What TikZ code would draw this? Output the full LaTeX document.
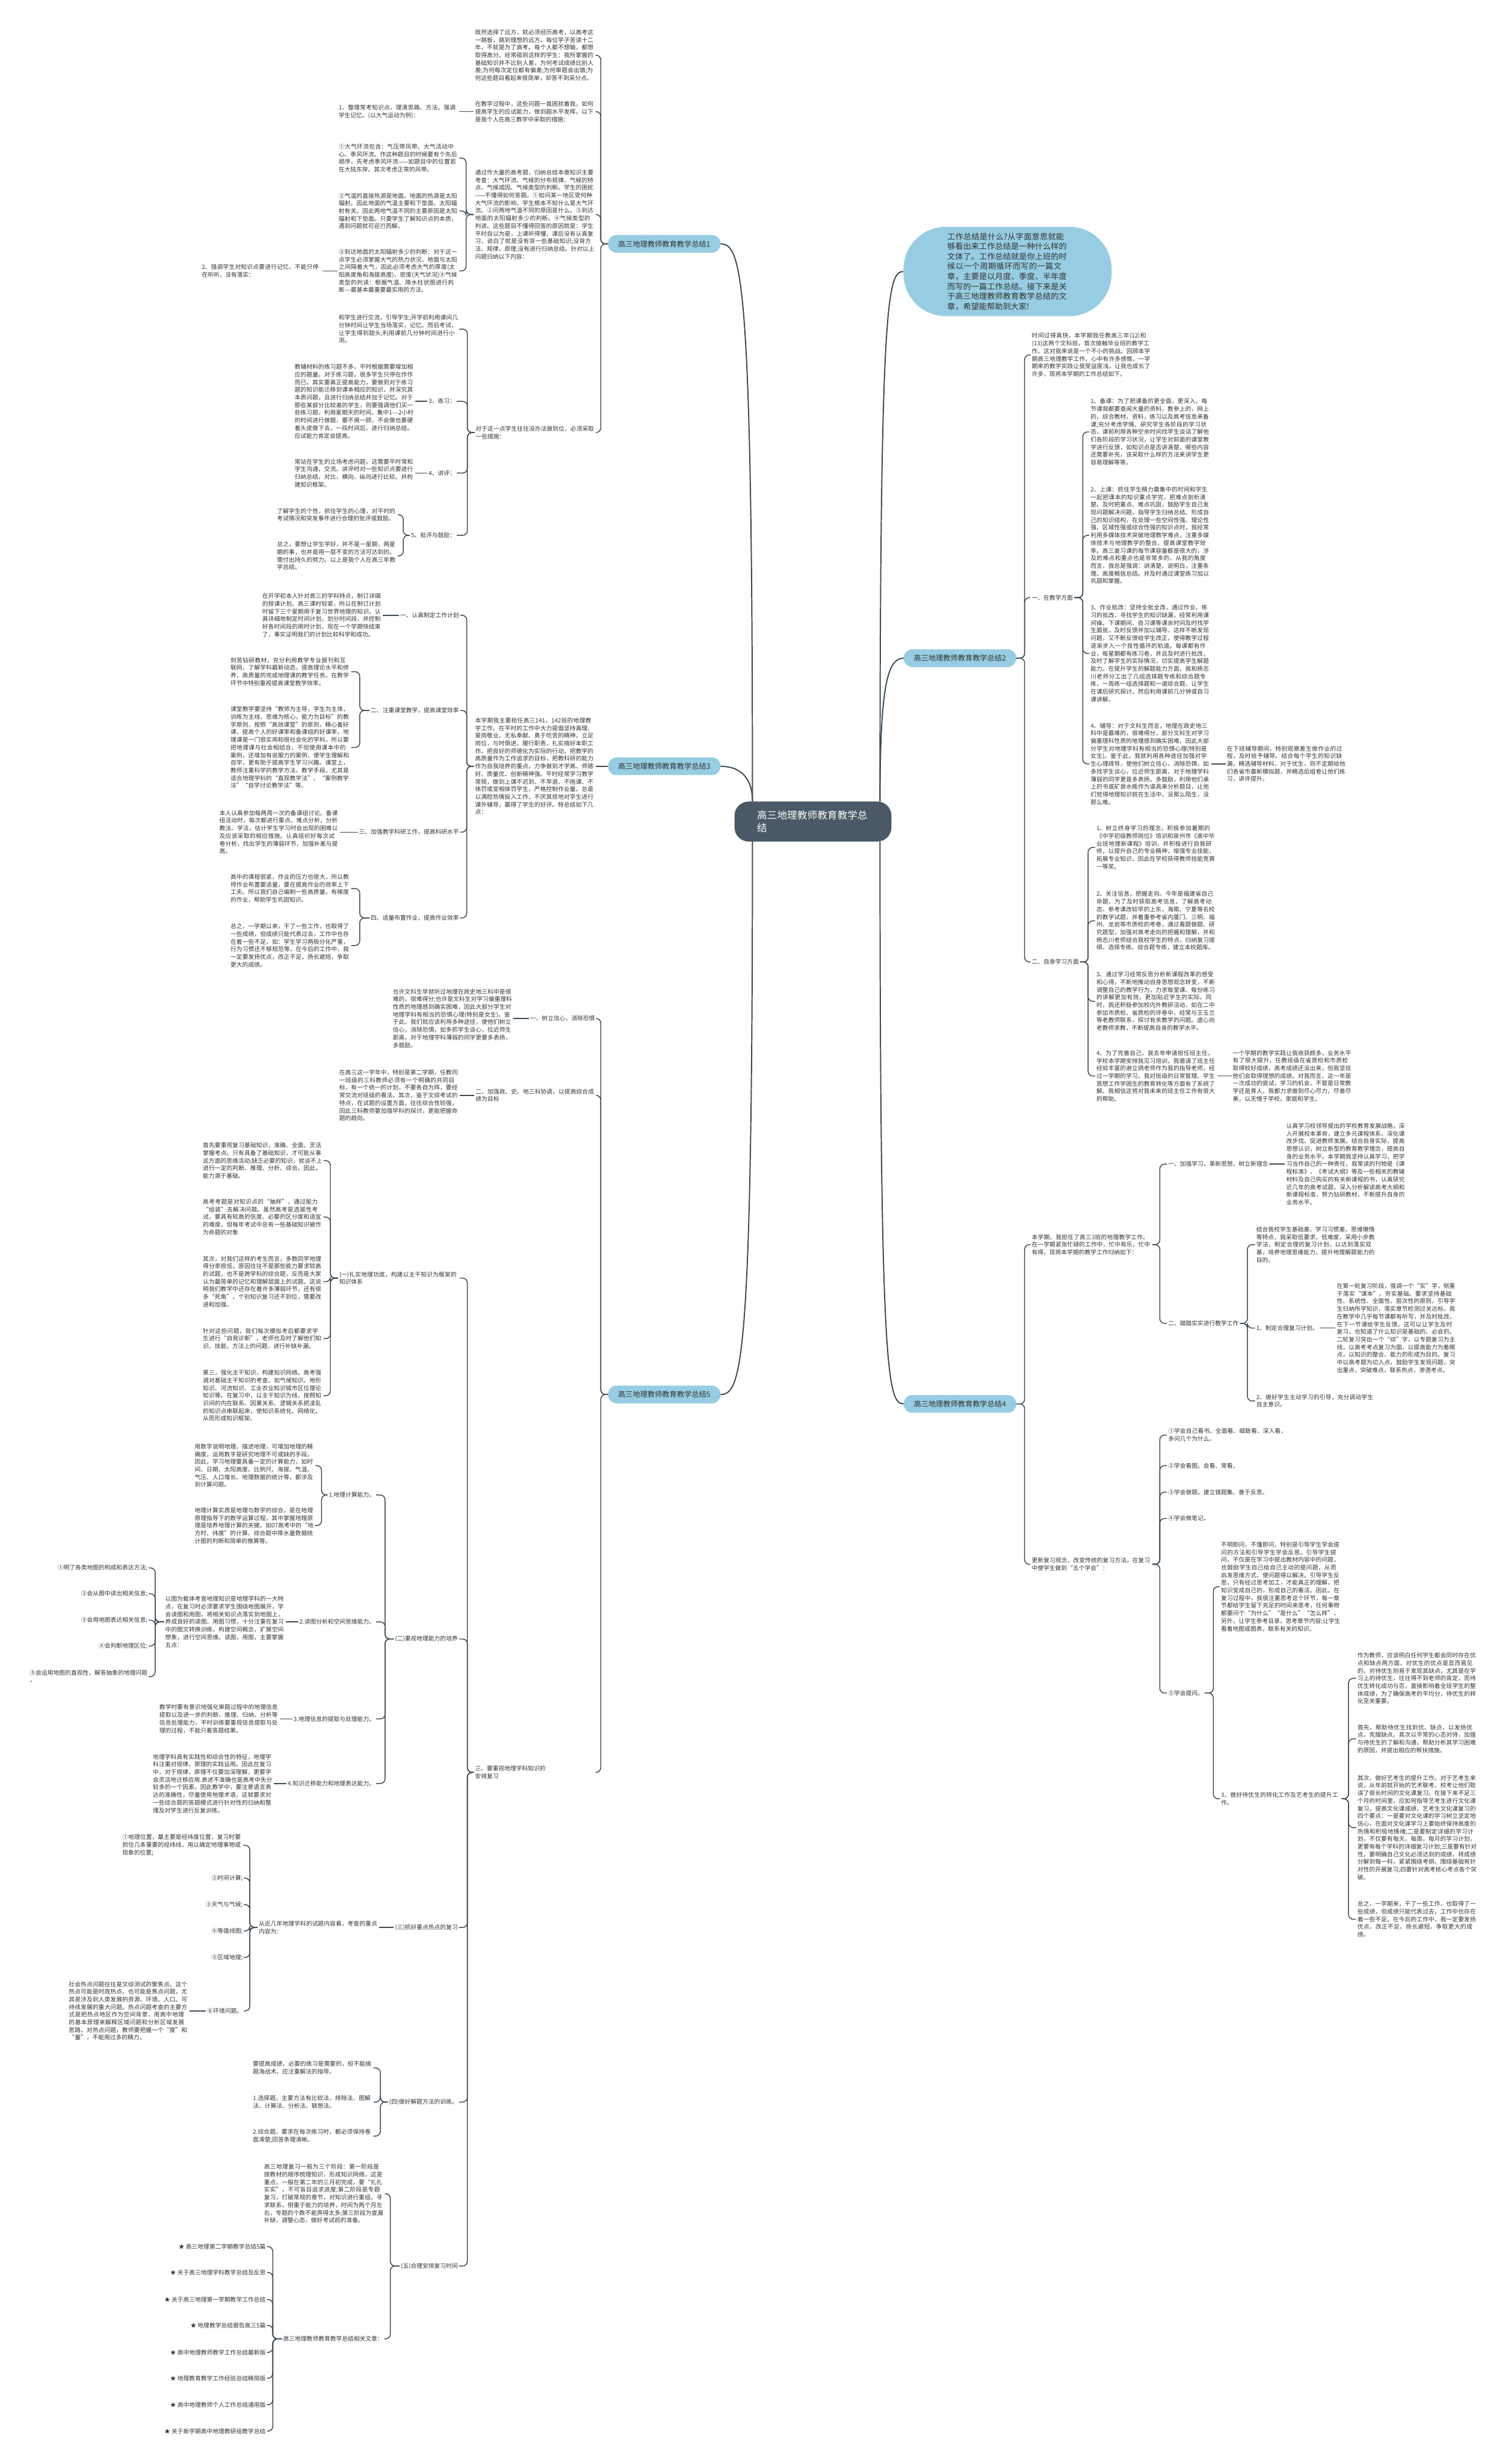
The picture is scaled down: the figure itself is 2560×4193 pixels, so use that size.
\documentclass[tikz,border=0pt]{standalone}
\usepackage{fontspec}
\setmainfont{Noto Sans CJK SC}
\XeTeXlinebreaklocale "zh"
\XeTeXlinebreakskip=0pt plus 1pt
\definecolor{linec}{RGB}{60,74,85}
\definecolor{txtc}{RGB}{51,51,51}
\definecolor{lblue}{RGB}{150,205,226}
\definecolor{dslate}{RGB}{74,89,101}
\tikzset{
 every node/.style={text=txtc},
 tx/.style={font=\fontsize{10}{13}\selectfont, text width=203pt, align=left, inner sep=2pt},
 lb/.style={font=\fontsize{10}{13}\selectfont, inner sep=2pt, align=left},
 conn/.style={draw=linec, line width=1.5pt, rounded corners=8pt},
 mainc/.style={draw=linec, line width=2pt},
 brn/.style={fill=lblue, rounded corners=14pt, minimum width=191pt, minimum height=30pt, font=\fontsize{12.5}{15}\selectfont, inner sep=0pt},
}
\begin{document}
\begin{tikzpicture}[x=1pt,y=-1pt]
\fill[white] (0,0) rectangle (2560,4193);
\useasboundingbox (0,0) rectangle (2560,4193);

% ---------- centre and branches ----------
\node[fill=dslate, rounded corners=24pt, minimum width=267pt, minimum height=68pt, text=white, text width=190pt, align=left, font=\fontsize{17}{22}\selectfont, inner sep=0pt] (c) at (1383,1398) {高三地理教师教育教学总结};
\node[brn] (n1) at (1130,415) {高三地理教师教育教学总结1};
\node[brn] (n3) at (1130,1304) {高三地理教师教育教学总结3};
\node[brn] (n5) at (1130,2373) {高三地理教师教育教学总结5};
\node[brn] (n2) at (1633,1120) {高三地理教师教育教学总结2};
\node[brn] (n4) at (1633,2389) {高三地理教师教育教学总结4};
\node[fill=lblue, rounded corners=72pt, minimum width=354pt, minimum height=152pt, text width=205pt, align=left, font=\fontsize{13.5}{17}\selectfont, inner sep=4pt] (bub) at (1714,462) {工作总结是什么?从字面意思就能够看出来工作总结是一种什么样的文体了。工作总结就是你上班的时候以一个周期循环而写的一篇文章，主要是以月度、季度、半年度而写的一篇工作总结。接下来是关于高三地理教师教育教学总结的文章，希望能帮助到大家!};

\draw[mainc] (1280,1364) .. controls (1280,470) and (1262,415) .. (n1.east);
\draw[mainc] (1280,1364) .. controls (1280,1322) and (1258,1304) .. (n3.east);
\draw[mainc] (1280,1432) .. controls (1280,2320) and (1262,2373) .. (n5.east);
\draw[mainc] (1497,1364) .. controls (1497,510) and (1510,462) .. (bub.west);
\draw[mainc] (1497,1364) .. controls (1497,1165) and (1510,1120) .. (n2.west);
\draw[mainc] (1497,1432) .. controls (1497,2340) and (1510,2389) .. (n4.west);

% ---------- branch 1 ----------
\node[tx,anchor=west] (a1) at (806,94) {既然选择了远方，就必须经历高考，以高考这一跳板，跳到理想的远方。每位学子苦读十二年，不就是为了高考。每个人都不想输，都想取得高分。经常碰到这样的学生：我所掌握的基础知识并不比别人差，为何考试成绩比别人差;为何每次定位都有偏差;为何审题会出错;为何这些题目看起来很简单，却答不到采分点。};
\node[tx,anchor=west] (a2) at (806,190) {在教学过程中，这些问题一直困扰着我。如何提高学生的应试能力，做到超水平发挥。以下是我个人在高三教学中采取的措施：};
\node[tx,anchor=west] (a3) at (806,365) {通过作大量的高考题，归纳总结本章知识主要考查：大气环流、气候的分布规律、气候的特点、气候成因、气候类型的判断。学生的困扰——不懂得如何答题。①如问某一地区受何种大气环流的影响，学生根本不知什么是大气环流。②问两地气温不同的原因是什么。③到达地面的太阳辐射多少的判断。④气候类型的判读。这些题目不懂得回答的原因就是：学生平时自以为是，上课听得懂，课后没有认真复习，说白了就是没有背一些基础知识;没背方法、规律、原理;没有进行归纳总结。针对以上问题归纳以下内容：};
\node[tx,anchor=west] (a4) at (807,736) {对于这一点学生往往没办法做到位，必须采取一些措施：};
\node[tx,anchor=west] (b1) at (574,190) {1、整理常考知识点，理清思路、方法。强调学生记忆。(以大气运动为例)：};
\node[tx,anchor=west] (c1) at (574,269) {①大气环流包含：气压带风带、大气活动中心、季风环流。作这种题目的时候要有个先后顺序，先考虑季风环流——如题目中的位置若在大陆东岸。其次考虑正常的风带。};
\node[tx,anchor=west] (c2) at (574,359) {②气温的直接热源是地面。地面的热源是太阳辐射。因此地面的气温主要和下垫面、太阳辐射有关。因此两地气温不同的主要原因是太阳辐射和下垫面。只要学生了解知识点的本质，遇到问题就可迎刃而解。};
\node[tx,anchor=west] (c3) at (574,461) {③到达地面的太阳辐射多少的判断：对于这一点学生必须掌握大气的热力状况，地面与太阳之间隔着大气，因此必须考虑大气的厚度(太阳高度角和海拔高度)，密度(天气状况)④气候类型的判读：根据气温、降水柱状图进行判断-{}-{}-最基本最重要最实用的方法。};
\node[tx,anchor=west] (d1) at (341,461) {2、强调学生对知识点要进行记忆，不能只停在听听，没有落实：};
\node[tx,anchor=west] (e1) at (574,560) {和学生进行交流，引导学生;开学初利用课间几分钟时间让学生当场落实，记忆。而后考试，让学生得到甜头;利用课前几分钟时间进行小测。};
\node[lb,anchor=east] (e2) at (777,683) {3、练习：};
\node[lb,anchor=east] (e3) at (777,805) {4、讲评：};
\node[lb,anchor=east] (e4) at (777,911) {5、批评与鼓励：};
\node[tx,anchor=west] (f1) at (499,683) {教辅材料的练习题不多，平时根据需要增加相应的题量。对于练习题，很多学生只停在作作而已，其实要真正提高能力，要做到对于练习题的知识能迁移到课本相应的知识，并深究其本质问题，且进行归纳总结并加于记忆。对于那些某部分比较差的学生，则要强调他们买一些练习题，利用星期天的时间，集中1-{}-{}-2小时的时间进行做题，要不屑一顾，不会做也要硬着头皮做下去，一段时间后，进行归纳总结。应试能力肯定会提高。};
\node[tx,anchor=west] (f2) at (499,805) {常站在学生的立场考虑问题，这需要平时常和学生沟通、交流。讲评时对一些知识点要进行归纳总结，对比，横向、纵向进行比较。并构建知识框架。};
\node[tx,anchor=west] (f3) at (469,876) {了解学生的个性，抓住学生的心理，对平时的考试情况和突发事件进行合理的批评或鼓励。};
\node[tx,anchor=west] (f4) at (469,946) {总之，要想让学生学好，并不是一星期，两星期的事，也并是用一层不变的方法可达到的。需付出持久的努力。以上是我个人在高三年教学总结。};

\foreach \k in {a1,a2,a3,a4} \draw[conn] (n1.west) -- (1022,415) |- (\k.east);
\draw[conn] (a2.west) -- (b1.east);
\foreach \k in {c1,c2,c3} \draw[conn] (a3.west) -- (793,365) |- (\k.east);
\draw[conn] (c3.west) -- (d1.east);
\foreach \k in {e1,e2,e3,e4} \draw[conn] (a4.west) -- (795,736) |- (\k.east);
\draw[conn] (e2.west) -- (f1.east);
\draw[conn] (e3.west) -- (f2.east);
\foreach \k in {f3,f4} \draw[conn] (e4.west) -- (686,911) |- (\k.east);

% ---------- branch 3 ----------
\node[tx,anchor=west] (g0) at (806,1304) {本学期我主要担任高三141，142班的地理教学工作。在平时的工作中大力提倡坚持真理、爱岗敬业、无私奉献、勇于吃苦的精神，立足岗位，与时俱进，履行职责，扎实搞好本职工作。把良好的师德化为实际的行动，把教学的高质量作为工作追求的目标，把教科研的能力作为自我培养的重点，力争做到才学高、师德好、质量优、创新精神强。平时经常学习教学常规，做到上课不迟到、不早退、不拖课、不体罚或变相体罚学生，严格控制作业量。总是以满腔热情投入工作，不厌其烦地对学生进行课外辅导，赢得了学生的好评。特总结如下几点：};
\node[lb,anchor=east] (h1) at (783,1047) {一、认真制定工作计划};
\node[lb,anchor=east] (h2) at (783,1209) {二、注重课堂教学，提高课堂效率};
\node[lb,anchor=east] (h3) at (783,1416) {三、加强教学科研工作，提高科研水平};
\node[lb,anchor=east] (h4) at (783,1562) {四、适量布置作业，提高作业效率};
\node[tx,anchor=west] (i1) at (444,1047) {在开学初本人针对高三的学科特点，制订详细的授课计划。高三课时较紧，所以在制订计划时留下三个星期用于复习世界地理的知识。认真详细地制定时间计划，划分时间段，并控制好各时间段的用时计划，现在一个学期快结束了，事实证明我们的计划比较科学和成功。};
\node[tx,anchor=west] (i2) at (390,1143) {刻苦钻研教材，充分利用教学专业报刊和互联网，了解学科最新动态，提高理论水平和修养，高质量的完成地理课的教学任务。在教学环节中特别重视提高课堂教学效率。};
\node[tx,anchor=west] (i3) at (390,1272) {课堂教学要坚持“教师为主导，学生为主体，训练为主线，思维为核心，能力为目标”的教学原则，按照“高效课堂”的原则，精心备好课，提高个人的好课率和备课组的好课率，地理课是一门很实用和很社会化的学科，所以要把地理课与社会相结合，不但使用课本中的案例，还增加有说服力的案例，便学生理解和自学，更有助于提高学生学习兴趣。课堂上，教师注重科学的教学方法、教学手段，尤其是适合地理学科的“直观教学法”、“案例教学法”“自学讨论教学法”等。};
\node[tx,anchor=west] (i4) at (371,1416) {本人认真参加每两周一次的备课组讨论。备课组活动时，每次都进行重点、难点分析，分析教法、学法，估计学生学习时会出现的困难以及应该采取的相应措施。认真组织好每次试卷分析，找出学生的薄弱环节，加强补差与提高。};
\node[tx,anchor=west] (i5) at (390,1512) {高中的课程很紧，作业的压力也很大，所以教师作业布置要适量，要在提高作业的效率上下工夫。所以我们自己编制一些高质量，有梯度的作业，帮助学生巩固知识。};
\node[tx,anchor=west] (i6) at (390,1609) {总之，一学期以来，干了一些工作，也取得了一些成绩，但成绩只能代表过去，工作中也存在着一些不足，如：学生学习两极分化严重，行为习惯还不够规范等，在今后的工作中，我一定要发扬优点，改正不足，扬长避短，争取更大的成绩。};

\draw[conn] (n3.west) -- (g0.east);
\foreach \k in {h1,h2,h3,h4} \draw[conn] (g0.west) -- (794,1304) |- (\k.east);
\draw[conn] (h1.west) -- (i1.east);
\foreach \k in {i2,i3} \draw[conn] (h2.west) -- (612,1209) |- (\k.east);
\draw[conn] (h3.west) -- (i4.east);
\foreach \k in {i5,i6} \draw[conn] (h4.west) -- (612,1562) |- (\k.east);

% ---------- branch 5 ----------
\node[lb,anchor=east] (j1) at (1014,1733) {一、树立信心，消除恐惧};
\node[tx,anchor=west] (j2) at (807,1864) {二、加强政、史、地三科协调，以提高综合成绩为目标};
\node[tx,anchor=west] (j3) at (806,3016) {三、要重视地理学科知识的\\安排复习};
\node[tx,anchor=west] (k1) at (666,1733) {也许文科生早就听过地理在政史地三科中是很难的，很难得分;也许是文科生对学习偏重理科性质的地理感到确实困难，因此大部分学生对地理学科有相当的恐惧心理(特别是女生)。鉴于此，我们就应该利用多种途径，使他们树立信心，消除恐惧，如多抓学生谈心，拉近师生距离，对于地理学科薄弱的同学更要多表扬，多鼓励。};
\node[tx,anchor=west] (k2) at (575,1864) {在高三这一学年中，特别是第二学期，任教同一班级的三科教师必须有一个明确的共同目标，有一个统一的计划，不要各自为阵，要经常交流对班级的看法。其次，鉴于文综考试的特点，在试题的设置方面，往往综合性较强，因此三科教师要加强学科的探讨，更能把握命题的趋向。};
\node[tx,anchor=west] (l1) at (575,2175) {(一)扎实地理功底，构建以主干知识为框架的知识体系};
\node[lb,anchor=east] (l2) at (781,2789) {(二)重视地理能力的培养};
\node[lb,anchor=east] (l3) at (781,3280) {(三)抓好重点热点的复习};
\node[lb,anchor=east] (l4) at (781,3577) {(四)做好解题方法的训练。};
\node[lb,anchor=east] (l5) at (781,3856) {(五)合理安排复习时间};
\node[tx,anchor=west] (m1) at (343,1975) {首先要重视复习基础知识，准确、全面、灵活掌握考点。只有具备了基础知识，才可能从事这方面的思维活动;缺乏必要的知识，就谈不上进行一定的判断、推理、分析、综合。因此，能力源于基础。};
\node[tx,anchor=west] (m2) at (343,2071) {高考考题是对知识点的“抽样”，通过能力“组装”去解决问题。虽然高考是选拔性考试，要具有较高的信度、必要的区分度和适宜的难度，但每年考试中总有一些基础知识被作为命题的对象};
\node[tx,anchor=west] (m3) at (343,2181) {其次，对我们这样的考生而言，多数同学地理得分率很低，原因往往不是那些能力要求较高的试题，也不是跨学科的综合题，反而是大家认为最简单的记忆和理解层面上的试题。这说明我们教学中还存在着许多薄弱环节，还有很多“死角”，个别知识复习还不到位，需要改进和加强。};
\node[tx,anchor=west] (m4) at (343,2278) {针对这些问题，我们每次模拟考后都要求学生进行“自我诊断”，老师也及时了解他们知识、技能、方法上的问题，进行补缺补漏。};
\node[tx,anchor=west] (m5) at (343,2375) {第三，强化主干知识，构建知识网络。高考强调对基础主干知识的考查。如气候知识、地形知识、河流知识、工业农业知识城市区位理论知识等。在复习中，以主干知识为线，按照知识间的内在联系、因果关系、逻辑关系把凌乱的知识点串联起来，使知识系统化、网络化，从而形成知识框架。};
\node[lb,anchor=east] (o1) at (640,2544) {1.地理计算能力。};
\node[lb,anchor=east] (o2) at (640,2760) {2.读图分析和空间思维能力。};
\node[lb,anchor=east] (o3) at (640,2925) {3.地理信息的提取与处理能力。};
\node[lb,anchor=east] (o4) at (640,3035) {4.知识迁移能力和地理表达能力。};
\node[tx,anchor=west] (p1) at (329,2494) {用数字说明地理、描述地理，可增加地理的精确度，运用数字是研究地理不可或缺的手段。因此，学习地理要具备一定的计算能力，如时间、日期、太阳高度、比例尺、海拔、气温、气压、人口增长、地理数据的统计等，都涉及到计算问题。};
\node[tx,anchor=west] (p2) at (329,2596) {地理计算实质是地理与数学的综合，是在地理原理指导下的数学运算过程，其中掌握地理原理是培养地理计算的关键。如07高考中的“地方时、纬度”的计算、综合题中降水量数据统计图的判断和简单的推算等。};
\node[tx,anchor=west] (p3) at (279,2760) {以图为载体考查地理知识是地理学科的一大特点，在复习时必须要求学生围绕地图展开，学会读图和用图，将相关知识点落实到地图上，养成良好的读图、用图习惯，十分注重在复习中的图文转换训练，构建空间概念，扩展空间想象，进行空间思维。读图，用图，主要掌握五点：};
\node[tx,anchor=west] (p4) at (269,2925) {教学时要有意识地强化审题过程中的地理信息提取以及进一步的判断、推理、归纳、分析等信息处理能力，平时训练要重视信息提取与处理的过程，不能只看答题结果。};
\node[tx,anchor=west] (p5) at (258,3035) {地理学科具有实践性和综合性的特征，地理学科注重对规律、原理的实践运用。因此在复习中，对于规律，原理不仅要加深理解，更要学会灵活地迁移应用.表述不准确也是高考中失分较多的一个因素，因此教学中，要注意语言表达的准确性，尽量使用地理术语，这就要求对一些综合题的答题模式进行针对性的归纳和整理及对学生进行反复训练。};
\node[lb,anchor=east] (q1) at (253,2668) {①明了各类地图的构成和表达方法;};
\node[lb,anchor=east] (q2) at (253,2712) {②会从图中读出相关信息;};
\node[lb,anchor=east] (q3) at (253,2757) {③会用地图表达相关信息;};
\node[lb,anchor=east] (q4) at (253,2801) {④会判断地理区位;};
\node[lb,anchor=east] (q5) at (253,2853) {⑤会运用地图的直观性，解答抽象的地理问题\\，};
\node[tx,anchor=west] (r0) at (438,3280) {从近几年地理学科的试题内容看，考查的重点内容为：};
\node[tx,anchor=west] (s1) at (206,3140) {①地理位置，最主要是经纬度位置，复习时要抓住几条重要的经纬线，用以确定地理事物或现象的位置;};
\node[lb,anchor=east] (s2) at (415,3196) {②时间计算;};
\node[lb,anchor=east] (s3) at (415,3241) {③天气与气候;};
\node[lb,anchor=east] (s4) at (415,3286) {④等值线图;};
\node[lb,anchor=east] (s5) at (415,3331) {⑤区域地理;};
\node[lb,anchor=east] (s6) at (415,3422) {⑥环境问题。};
\node[tx,anchor=west] (t1) at (115,3422) {社会热点问题往往是文综测试的聚焦点。这个热点可能是时政热点，也可能是焦点问题，尤其是涉及到人类发展的资源、环境、人口、可持续发展的重大问题。热点问题考查的主要方式是把热点地区作为空间背景，用高中地理的基本原理来解释区域问题和分析区域发展思路，对热点问题，教师要把握一个“度”和“量”，不能用过多的精力。};
\node[tx,anchor=west] (u1) at (428,3519) {要提高成绩，必要的练习是需要的，但不能搞题海战术。应注重解法的指导。};
\node[tx,anchor=west] (u2) at (428,3577) {1.选择题。主要方法有比较法、排除法、图解法、计算法、分析法、联想法。};
\node[tx,anchor=west] (u3) at (428,3635) {2.综合题。要求在每次练习时，都必须保持卷面清楚;回答条理清晰。};
\node[tx,anchor=west] (v1) at (447,3733) {高三地理复习一般为三个阶段：第一阶段是按教材的顺序梳理知识，形成知识网络，这是重点，一般在第二年的三月初完成，要“扎扎实实”，不可盲目追求进度;第二阶段是专题复习，打破常规的章节，对知识进行重组，寻求联系，侧重于能力的培养，时间为两个月左右，专题的个数不能弄得太多;第三阶段为查漏补缺，调整心态，做好考试前的准备。};
\node[lb,anchor=east] (v2) at (654,3980) {高三地理教师教育教学总结相关文章：};
\node[lb,anchor=east] (w1) at (454,3823) {★ 高三地理第二学期教学总结5篇};
\node[lb,anchor=east] (w2) at (454,3867) {★ 关于高三地理学科教学总结及反思};
\node[lb,anchor=east] (w3) at (454,3913) {★ 关于高三地理第一学期教学工作总结};
\node[lb,anchor=east] (w4) at (454,3957) {★ 地理教学总结报告高三5篇};
\node[lb,anchor=east] (w5) at (454,4003) {★ 高中地理教师教学工作总结最新版};
\node[lb,anchor=east] (w6) at (454,4047) {★ 地理教育教学工作经验总结精简版};
\node[lb,anchor=east] (w7) at (454,4092) {★ 高中地理教师个人工作总结通用版};
\node[lb,anchor=east] (w8) at (454,4137) {★ 关于新学期高中地理教研组教学总结};

\foreach \k in {j1,j2,j3} \draw[conn] (n5.west) -- (1022,2373) |- (\k.east);
\draw[conn] (j1.west) -- (k1.east);
\draw[conn] (j2.west) -- (k2.east);
\foreach \k in {l1,l2,l3,l4,l5} \draw[conn] (j3.west) -- (795,3016) |- (\k.east);
\foreach \k in {m1,m2,m3,m4,m5} \draw[conn] (l1.west) -- (562,2175) |- (\k.east);
\foreach \k in {o1,o2,o3,o4} \draw[conn] (l2.west) -- (655,2789) |- (\k.east);
\foreach \k in {p1,p2} \draw[conn] (o1.west) -- (547,2544) |- (\k.east);
\draw[conn] (o2.west) -- (p3.east);
\foreach \k in {q1,q2,q3,q4,q5} \draw[conn] (p3.west) -- (264,2760) |- (\k.east);
\draw[conn] (o3.west) -- (p4.east);
\draw[conn] (o4.west) -- (p5.east);
\draw[conn] (l3.west) -- (r0.east);
\foreach \k in {s1,s2,s3,s4,s5,s6} \draw[conn] (r0.west) -- (425,3280) |- (\k.east);
\draw[conn] (s6.west) -- (t1.east);
\foreach \k in {u1,u2,u3} \draw[conn] (l4.west) -- (647,3577) |- (\k.east);
\foreach \k in {v1,v2} \draw[conn] (l5.west) -- (664,3856) |- (\k.east);
\foreach \k in {w1,w2,w3,w4,w5,w6,w7,w8} \draw[conn] (v2.west) -- (464,3980) |- (\k.east);

% ---------- branch 2 ----------
\node[tx,anchor=west] (x1) at (1753,604) {时间过得真快，本学期我任教高三年(12)和(13)这两个文科班，首次接触毕业班的教学工作。这对我来说是一个不小的挑战。回顾本学期高三地理教学工作，心中有许多感慨，一学期来的教学实践让我受益匪浅，让我也成长了许多，现将本学期的工作总结如下。};
\node[lb,anchor=west] (x2) at (1753,1017) {一、在教学方面};
\node[lb,anchor=west] (x3) at (1753,1637) {二、自身学习方面};
\node[tx,anchor=west] (y1) at (1853,735) {1、备课：为了把课备的更全面，更深入，每节课我都要查阅大量的资料，教参上的，网上的，综合教材，资料，练习以及高考信息来备课;充分考虑学情、研究学生各阶段的学习状态，课前利用各种空余时间找学生谈话了解他们各阶段的学习状况，让学生对前面的课堂教学进行反馈，如知识点是否讲清楚，哪些内容还需要补充，该采取什么样的方法来讲学生更容易理解等等。};
\node[tx,anchor=west] (y2) at (1853,911) {2、上课：抓住学生精力最集中的时间和学生一起把课本的知识重点学完，把难点剖析清楚。及时把重点、难点巩固，鼓励学生自己发现问题解决问题，指导学生归纳总结、形成自己的知识结构，在处理一些空间性强、理论性强、区域性强或综合性强的知识点时，我经常利用多媒体技术突破地理教学难点，注重多媒体技术与地理教学的整合，提高课堂教学效率。高三复习课的每节课容量都是很大的，涉及的难点和重点也是非常多的，从我的角度而言，我总是强调：讲清楚、说明白，注重条理、高度概括总结。并及时通过课堂练习加以巩固和掌握。};
\node[tx,anchor=west] (y3) at (1853,1112) {3、作业批改：坚持全批全改，通过作业、练习的批改，寻找学生的知识缺漏，经常利用课间操、下课期间、自习课等课余时间及时找学生面批，及时反馈并加以辅导。这样不断发现问题，又不断反馈给学生改正，使得教学过程逐渐步入一个良性循环的轨道。每课都有作业，每星期都有练习卷，并且及时进行批改，及时了解学生的实际情况，切实提高学生解题能力。在提升学生的解题能力方面，我和杨志川老师分工出了几组选择题专练和综合题专练，一周练一组选择题和一道综合题，让学生在课后研究探讨，然后利用课前几分钟或自习课讲解。};
\node[tx,anchor=west] (y4) at (1853,1300) {4、辅导：对于文科生而言，地理在政史地三科中是最难的，很难得分，部分文科生对学习偏重理科性质的地理感到确实困难，因此大部分学生对地理学科有相当的恐惧心理(特别是女生)。鉴于此，我就利用各种途径加强对学生心理疏导，使他们树立信心，消除恐惧，如多找学生谈心，拉近师生距离，对于地理学科薄弱的同学更是多表扬，多鼓励，利用他们桌上的书或矿泉水瓶作为道具来分析题目，让他们觉得地理知识就在生活中，没那么陌生，没那么难。};
\node[tx,anchor=west] (z1) at (2085,1300) {在下班辅导期间，特别观察差生做作业的过程，及时给予辅导。结合每个学生的知识缺漏，精选辅导材料，对于优生，则不定期给他们各省市最新模拟题，并精选后组卷让他们练习，讲评提升。};
\node[tx,anchor=west] (y5) at (1863,1442) {1、树立终身学习的理念，积极参加暑期的《中学初级教师岗位》培训和泉州市《高中毕业班地理新课程》培训，并积极进行自我研修，以提升自己的专业精神，增强专业技能，拓展专业知识，因此在学校获得教师技能竞赛一等奖。};
\node[tx,anchor=west] (y6) at (1863,1567) {2、关注信息，把握走向。今年是福建省自己命题，为了及时获取高考信息，了解高考动态，参考课改较早的上东，海南、宁夏等名校的教学试题，并着重参考省内厦门、三明、福州、龙岩等市质检的考卷，通过看题做题、研究题型，加强对高考走向的把握和理解，并和杨志川老师结合我校学生的特点，归纳复习提纲、选择专练、综合题专练，建立本校题库。};
\node[tx,anchor=west] (y7) at (1863,1704) {3、通过学习经常反思分析新课程改革的感受和心得，不断地推动自身思想观念转变，不断调整自己的教学行为，力求每堂课、每份练习的讲解更加有效，更加贴近学生的实际。同时，我还积极参加校内外教研活动，如在二中参加市质检、省质检的评卷中，经常与王玉兰等老教师联系，探讨有关教学的问题。虚心向老教师求教，不断提高自身的教学水平。};
\node[tx,anchor=west] (y8) at (1863,1831) {4、为了完善自己，我去年申请担任班主任，学校本学期安排我见习培训，我邀请了班主任经验丰富的谢立炳老师作为我的指导老师，经过一学期的学习，我对班级的日常管理、学生思想工作学困生的教育转化等方面有了系统了解。我相信这将对我未来的班主任工作有很大的帮助。};
\node[tx,anchor=west] (z2) at (2095,1831) {一个学期的教学实践让我收获颇多，业务水平有了很大提升，任教班级在省质检和市质检取得较好成绩，高考成绩还没出来，但我坚信他们会取得理想的成绩。对我而言，这一年是一次成功的尝试，学习的机会，不管是日常教学还是育人，我都力求做到尽心尽力，尽善尽美，以无愧于学校、家庭和学生。};

\foreach \k in {x1,x2,x3} \draw[conn] (n2.east) -- (1743,1120) |- (\k.west);
\foreach \k in {y1,y2,y3,y4} \draw[conn] (x2.east) -- (1842,1017) |- (\k.west);
\draw[conn] (y4.east) -- (z1.west);
\foreach \k in {y5,y6,y7,y8} \draw[conn] (x3.east) -- (1851,1637) |- (\k.west);
\draw[conn] (y8.east) -- (z2.west);

% ---------- branch 4 ----------
\node[tx,anchor=west] (A1) at (1753,2118) {本学期，我担任了高三3班的地理教学工作。在一学期紧张忙碌的工作中，忙中有乐，忙中有得。现将本学期的教学工作归纳如下：};
\node[tx,anchor=west] (A2) at (1753,2662) {更新复习观念，改变传统的复习方法。在复习中使学生做到“五个学会”：};
\node[lb,anchor=west] (B1) at (1985,1981) {一、加强学习，革新思想，树立新理念};
\node[lb,anchor=west] (B2) at (1985,2252) {二、踏踏实实进行教学工作};
\node[tx,anchor=west] (C1) at (2186,1981) {认真学习校领导提出的学校教育发展战略，深入开展校本革命，建立多元课程体系、深化课改步伐、促进教师发展。结合自身实际，提高思想认识，树立新型的教育教学理念，提高自身的业务水平。本学期我坚持认真学习，把学习当作自己的一种责任，我常读的刊物是《课程标准》、《考试大纲》等及一些相关的教辅材料及自己购买的有关新课程的书，认真研究近几年的高考试题，深入分析解读高考大纲和新课程标准，努力钻研教材，不断提升自身的业务水平。};
\node[tx,anchor=west] (C2) at (2135,2118) {结合我校学生基础差、学习习惯差、思维懒惰等特点，我采取低要求，低难度，采用小步教学法，制定合理的复习计划，以达到落实双基，培养地理思维能力，提升地理解题能力的目的。};
\node[lb,anchor=west] (C3) at (2135,2260) {1、制定合理复习计划。};
\node[tx,anchor=west] (C4) at (2135,2384) {2、做好学生主动学习的引导，充分调动学生自主意识。};
\node[tx,anchor=west] (D1) at (2272,2260) {在第一轮复习阶段，强调一个“实”字，侧重于落实“课本”，夯实基础。要求坚持基础性、系统性、全面性、层次性的原则，引导学生归纳所学知识，落实章节检测过关达标。我在教学中几乎每节课都有听写，并及时批改，在下一节课给学生反馈。这可以让学生及时复习，也知道了什么知识是基础的、必会的。二轮复习突出一个“综”字，以专题复习为主线，以高考考点复习为面，以提高能力为着眼点，以知识的整合、能力的形成为目的。复习中以高考题为切入点，鼓励学生发现问题，突出重点，突破难点，联系热点，渗透考点。};
\node[tx,anchor=west] (E1) at (1985,2442) {①学会自己看书。全面看、细致看、深入看，多问几个为什么。};
\node[lb,anchor=west] (E2) at (1985,2494) {②学会看图。会看、常看。};
\node[lb,anchor=west] (E3) at (1985,2539) {③学会做题。建立错题集、善于反思。};
\node[lb,anchor=west] (E4) at (1985,2584) {④学会做笔记。};
\node[lb,anchor=west] (E5) at (1985,2881) {⑤学会提问。};
\node[tx,anchor=west] (F1) at (2075,2700) {不明即问，不懂即问，特别是引导学生学会提问的方法和引导学生学会反思。引导学生提问，不仅是在学习中提出教材内容中的问题，也鼓励学生自己给自己主动的提问题，从而启发思维方式，使问题得以解决。引导学生反思，只有经过思考加工，才能真正的理解，把知识变成自己的，形成自己的看法。因此，在复习过程中，我很注重思考这个环节，每一章节都给学生留下充足的时间来思考，任何事物都要问个“为什么”“是什么”“怎么样”，另外，让学生参考目录，思考章节内容;让学生看着地图或图表，联系有关的知识。};
\node[tx,anchor=west] (F2) at (2075,3061) {3、做好待优生的转化工作及艺考生的提升工作。};
\node[tx,anchor=west] (G1) at (2307,2856) {作为教师，应该明白任何学生都会同时存在优点和缺点两方面，对优生的优点是显而易见的，对待优生则易于发现其缺点，尤其是在学习上的待优生，往往得不到老师的肯定，而待优生转化成功与否，直接影响着全班学生的整体成绩，为了确保高考的平均分，待优生的转化至关重要。};
\node[tx,anchor=west] (G2) at (2307,2959) {首先，帮助待优生找到优、缺点，以发扬优点，克服缺点。其次以平常的心态对待，加强与待优生的了解和沟通，帮助分析其学习困难的原因，并提出相应的帮扶措施。};
\node[tx,anchor=west] (G3) at (2307,3110) {其次，做好艺考生的提升工作。对于艺考生来说，从年前就开始的艺术联考、校考让他们耽误了很长时间的文化课复习。在接下来不足三个月的时间里，应如何指导艺考生进行文化课复习，提高文化课成绩，艺考生文化课复习的四个要点：一是要对文化课的学习树立坚定地信心，在面对文化课学习上要始终保持高度的热情和积极地情绪;二是要制定详细的学习计划，不仅要有每天，每周，每月的学习计划，更要有每个学科的详细复习计划;三是要有针对性，要明确自己文化必须达到的成绩，将成绩分解到每一科，紧紧围绕考纲、围绕基础有针对性的开展复习;四要针对高考核心考点各个突破。};
\node[tx,anchor=west] (G4) at (2307,3266) {总之，一学期来，干了一些工作，也取得了一些成绩，但成绩只能代表过去，工作中也存在着一些不足。在今后的工作中，我一定要发扬优点，改正不足，扬长避短，争取更大的成绩。};

\foreach \k in {A1,A2} \draw[conn] (n4.east) -- (1743,2389) |- (\k.west);
\foreach \k in {B1,B2} \draw[conn] (A1.east) -- (1973,2118) |- (\k.west);
\draw[conn] (B1.east) -- (C1.west);
\foreach \k in {C2,C3,C4} \draw[conn] (B2.east) -- (2122,2252) |- (\k.west);
\draw[conn] (C3.east) -- (D1.west);
\foreach \k in {E1,E2,E3,E4,E5} \draw[conn] (A2.east) -- (1973,2662) |- (\k.west);
\foreach \k in {F1,F2} \draw[conn] (E5.east) -- (2064,2881) |- (\k.west);
\foreach \k in {G1,G2,G3,G4} \draw[conn] (F2.east) -- (2294,3061) |- (\k.west);
\end{tikzpicture}
\end{document}
